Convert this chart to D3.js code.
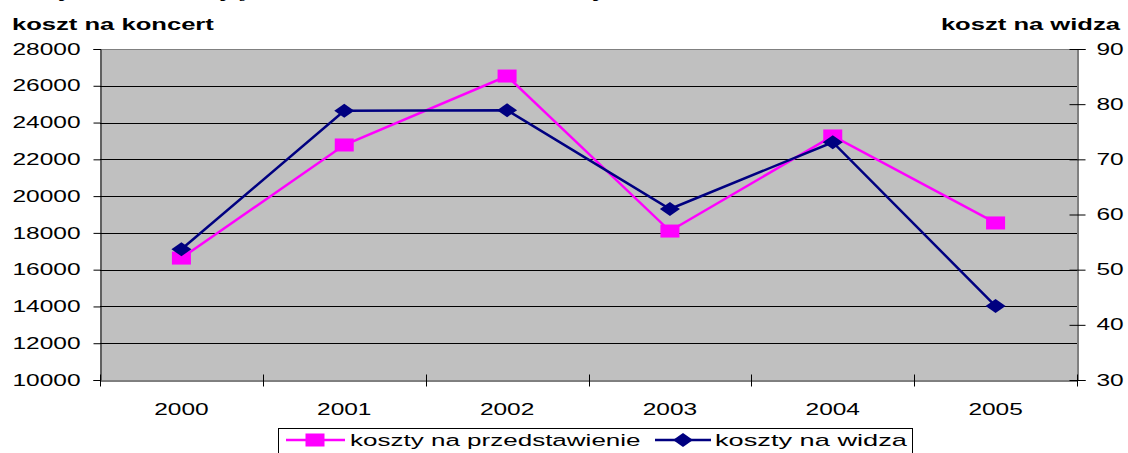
<!DOCTYPE html>
<html>
<head>
<meta charset="utf-8">
<script src="https://cdn.jsdelivr.net/npm/d3@7"></script>
<style>
  body { margin: 0; background: #fff; }
  svg { display: block; font-family: "Liberation Sans", Arial, sans-serif; }
</style>
</head>
<body>
<div id="chart"></div>
<script>
var years = ["2000", "2001", "2002", "2003", "2004", "2005"];
var kosztKoncert = [16630, 22780, 26530, 18100, 23270, 18540];
var kosztWidz = [53.7, 78.8, 78.9, 61.0, 73.1, 43.4];
var leftTicks = [10000, 12000, 14000, 16000, 18000, 20000, 22000, 24000, 26000, 28000];
var rightTicks = [30, 40, 50, 60, 70, 80, 90];

var W = 1128, H = 453;
var m = {l: 100, r: 1077, t: 49, b: 380};
var pink = "#ff00ff", navy = "#000080";
var SX = 1.53; // the original picture is stretched sideways

var svg = d3.select("#chart").append("svg").attr("width", W).attr("height", H);

// widen text horizontally around its own x position
function stretch(sel, sx) {
    sel.each(function() {
        var t = d3.select(this), x0 = +t.attr("x") || 0;
        t.attr("x", 0).attr("transform", "translate(" + x0 + ",0) scale(" + sx + ",1)");
    });
}

// cut-off caption above the chart
svg.append("text").attr("x", 40).attr("y", -3)
    .style("font-family", "Liberation Serif").style("font-style", "italic")
    .style("font-size", "19px")
    .text("Wykres 4. Koszty jednostkowe koncertów i koszty na widza")
    .call(stretch, SX);

var x = d3.scaleBand().domain(years).range([m.l, m.r]);
var yL = d3.scaleLinear().domain([10000, 28000]).range([m.b, m.t]);
var yR = d3.scaleLinear().domain([30, 90]).range([m.b, m.t]);

svg.append("rect").attr("x", m.l).attr("y", m.t)
    .attr("width", m.r - m.l).attr("height", m.b - m.t).attr("fill", "#c0c0c0");

// grid
svg.append("g").selectAll("line").data(leftTicks.slice(1, -1)).enter().append("line")
    .attr("x1", m.l).attr("x2", m.r)
    .attr("y1", function(d) { return Math.round(yL(d)) + 0.5; })
    .attr("y2", function(d) { return Math.round(yL(d)) + 0.5; })
    .attr("stroke", "#000").attr("stroke-width", 1);
svg.append("line").attr("x1", m.l).attr("x2", m.r).attr("y1", m.t + 0.5).attr("y2", m.t + 0.5)
    .attr("stroke", "#808080");

// left axis
var gL = svg.append("g").attr("transform", "translate(" + (m.l + 0.5) + ",0)")
    .call(d3.axisLeft(yL).tickValues(leftTicks).tickSize(7).tickPadding(13).tickFormat(d3.format("d")));
gL.selectAll("text").style("font-size", "16px").attr("fill", "#000").call(stretch, SX);

// right axis
var gR = svg.append("g").attr("transform", "translate(" + (m.r + 0.5) + ",0)")
    .call(d3.axisRight(yR).tickValues(rightTicks).tickSize(8).tickPadding(11));
gR.selectAll(".tick line").attr("x1", -8);
gR.selectAll("text").style("font-size", "16px").attr("fill", "#000").call(stretch, SX);

// bottom axis
var gB = svg.append("g").attr("transform", "translate(0," + (m.b + 0.5) + ")")
    .call(d3.axisBottom(x).tickSize(0).tickPadding(23));
gB.selectAll("text").style("font-size", "16px").attr("fill", "#000").call(stretch, SX);
gB.selectAll(".bound").data(d3.range(years.length + 1)).enter().append("line")
    .attr("x1", function(i) { return Math.round(m.l + i * x.bandwidth()) + 0.5; })
    .attr("x2", function(i) { return Math.round(m.l + i * x.bandwidth()) + 0.5; })
    .attr("y1", -6).attr("y2", 6).attr("stroke", "#000");

svg.selectAll(".domain").attr("stroke", "#000");

// axis titles
svg.append("text").attr("x", 12).attr("y", 30).style("font-size", "16px").style("font-weight", "bold")
    .text("koszt na koncert").call(stretch, 1.6);
svg.append("text").attr("x", 1120).attr("y", 30).attr("text-anchor", "end")
    .style("font-size", "16px").style("font-weight", "bold").text("koszt na widza").call(stretch, 1.6);

var cx = function(i) { return x(years[i]) + x.bandwidth() / 2; };

// series lines
svg.append("path").datum(kosztKoncert)
    .attr("d", d3.line().x(function(d, i) { return cx(i); }).y(function(d) { return yL(d); }))
    .attr("fill", "none").attr("stroke", pink).attr("stroke-width", 2.5);
svg.append("path").datum(kosztWidz)
    .attr("d", d3.line().x(function(d, i) { return cx(i); }).y(function(d) { return yR(d); }))
    .attr("fill", "none").attr("stroke", navy).attr("stroke-width", 2.5);

function square(g, px, py) {
    g.append("rect").attr("x", px - 9.5).attr("y", py - 6.5).attr("width", 19).attr("height", 13).attr("fill", pink);
}
function diamond(g, px, py) {
    g.append("path").attr("d", "M" + (px - 10) + "," + py + "L" + px + "," + (py - 7) + "L" + (px + 10) + "," + py + "L" + px + "," + (py + 7) + "Z")
        .attr("fill", navy);
}
kosztKoncert.forEach(function(d, i) { square(svg, cx(i), yL(d)); });
kosztWidz.forEach(function(d, i) { diamond(svg, cx(i), yR(d)); });

// legend
var leg = svg.append("g");
leg.append("rect").attr("x", 278.5).attr("y", 428.5).attr("width", 634).attr("height", 40)
    .attr("fill", "#fff").attr("stroke", "#000");
leg.append("line").attr("x1", 286).attr("x2", 345).attr("y1", 440).attr("y2", 440).attr("stroke", pink).attr("stroke-width", 2.5);
square(leg, 315, 440);
leg.append("text").attr("x", 350).attr("y", 446).style("font-size", "17px").text("koszty na przedstawienie").call(stretch, SX);
leg.append("line").attr("x1", 655).attr("x2", 711).attr("y1", 440).attr("y2", 440).attr("stroke", navy).attr("stroke-width", 2.5);
diamond(leg, 683, 440);
leg.append("text").attr("x", 715).attr("y", 446).style("font-size", "17px").text("koszty na widza").call(stretch, 1.6);
</script>
</body>
</html>
